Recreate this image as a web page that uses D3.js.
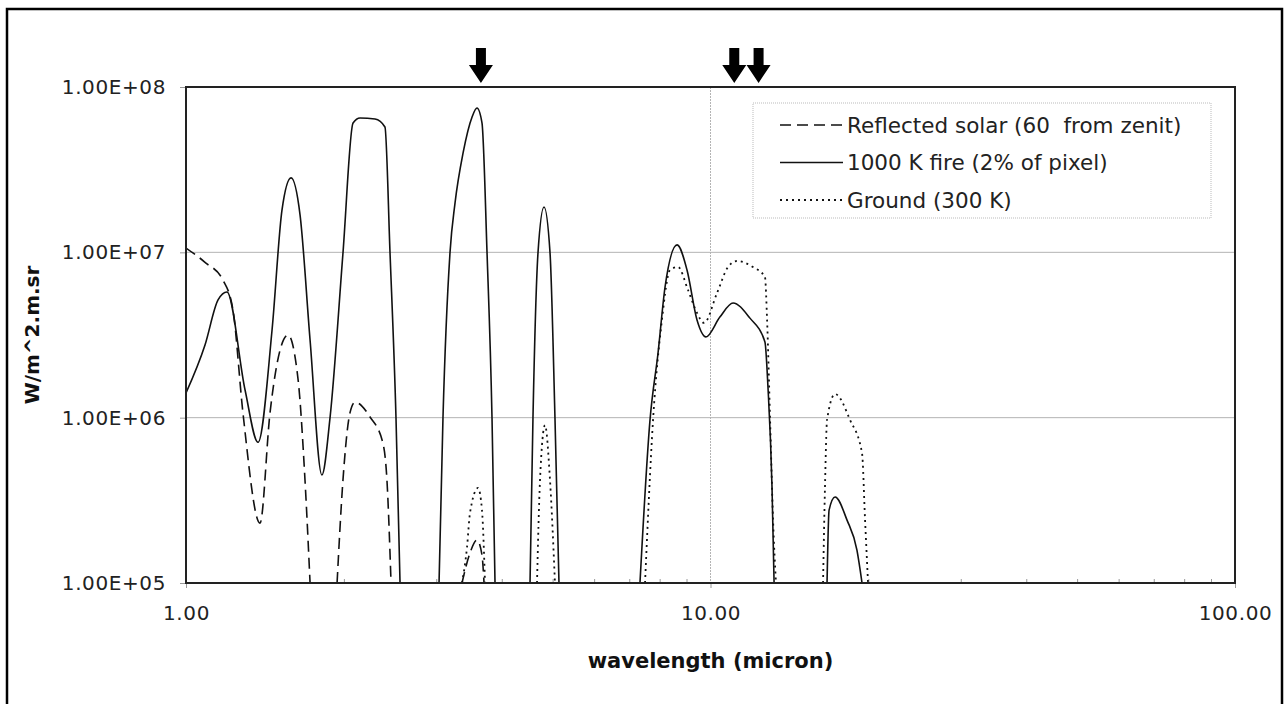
<!DOCTYPE html>
<html>
<head>
<meta charset="utf-8">
<script src="https://cdn.jsdelivr.net/npm/d3@7"></script>
<style>
  body { margin: 0; background: #fff; }
  text { font-family: "DejaVu Sans", Verdana, sans-serif; }
</style>
</head>
<body>
<div id="chart"></div>
<script>
// wavelength (micron) and radiance (W/m^2.m.sr); null = gap (below 1e5)
var fireLam = [1.00, 1.087, 1.151, 1.197, 1.296, 1.372, 1.459, 1.524, 1.586, 1.650, 1.724, 1.816, 1.882, 1.992, 2.082, 2.147, 2.293, 2.395, 2.449, 2.514, 2.559,
  2.8,
  3.037, 3.09, 3.187, 3.258, 3.375, 3.511, 3.588, 3.667, 3.749, 3.832, 3.883,
  4.2,
  4.528, 4.587, 4.690, 4.815, 4.943, 5.052, 5.142,
  6.0,
  7.337, 7.668, 7.943, 8.191, 8.636, 9.020, 9.425, 9.80, 10.42, 11.04, 11.89, 12.70, 12.87, 13.10, 13.22,
  15.0,
  16.68, 16.83, 17.28, 18.21, 19.02, 19.45]
var fireVal = [1.41e6, 2.75e6, 5.15e6, 5.75e6, 1.47e6, 7.1e5, 3.39e6, 1.8e7, 2.82e7, 1.68e7, 2.95e6, 4.5e5, 1.0e6, 9.9e6, 6.06e7, 6.5e7, 6.4e7, 5.73e7, 9.9e6, 1.0e6, 1.0e5,
  null,
  1.0e5, 1.0e6, 1.0e7, 1.99e7, 3.99e7, 6.59e7, 7.46e7, 6.06e7, 1.0e7, 1.0e6, 1.0e5,
  null,
  1.0e5, 1.0e6, 1.0e7, 1.88e7, 1.0e7, 1.0e6, 1.0e5,
  null,
  1.0e5, 9.7e5, 2.46e6, 6.17e6, 1.11e7, 7.82e6, 3.9e6, 3.08e6, 4.06e6, 4.94e6, 4.0e6, 2.87e6, 1.53e6, 3.81e5, 1.0e5,
  null,
  1.0e5, 2.76e5, 3.31e5, 2.4e5, 1.58e5, 1.0e5]

var solarLam = [1.00, 1.087, 1.176, 1.229, 1.284, 1.384, 1.446, 1.511, 1.565, 1.636, 1.686, 1.724,
  1.8,
  1.941, 1.992, 2.054, 2.10, 2.243, 2.374, 2.416, 2.460,
  3.0,
  3.359, 3.479, 3.588, 3.667, 3.700]
var solarVal = [1.06e7, 8.7e6, 6.8e6, 4.48e6, 1.07e6, 2.3e5, 1.07e6, 2.56e6, 3.16e6, 1.69e6, 4.2e5, 1.0e5,
  null,
  1.0e5, 4.2e5, 1.07e6, 1.24e6, 1.01e6, 7.0e5, 4.2e5, 1.0e5,
  null,
  1.0e5, 1.52e5, 1.82e5, 1.48e5, 1.0e5]

var groundLam = [3.359, 3.434, 3.479, 3.604, 3.667, 3.716,
  4.2,
  4.669, 4.731, 4.836, 4.943, 5.052,
  6.0,
  7.502, 7.771, 8.08, 8.373, 8.67, 9.06, 9.425, 9.72, 10.29, 10.80, 11.23, 12.05, 12.70, 12.82, 12.99, 13.16, 13.33,
  15.0,
  16.39, 16.53, 16.68, 17.28, 18.45, 19.45, 19.71, 19.97]
var groundVal = [1.0e5, 1.65e5, 2.65e5, 3.76e5, 2.76e5, 1.0e5,
  null,
  1.0e5, 4.2e5, 9.0e5, 4.2e5, 1.0e5,
  null,
  1.0e5, 9.7e5, 3.9e6, 7.82e6, 8.15e6, 5.92e6, 4.3e6, 3.74e6, 5.67e6, 8.15e6, 8.86e6, 8.15e6, 7.1e6, 3.9e6, 9.7e5, 2.4e5, 1.0e5,
  null,
  1.0e5, 3.81e5, 9.7e5, 1.39e6, 9.7e5, 6.1e5, 2.4e5, 1.0e5]

var seriesNames = ["Reflected solar (60  from zenit)", "1000 K fire (2% of pixel)", "Ground (300 K)"]
var arrowLam = [3.65, 11.1, 12.35]
var yTicks = [1e5, 1e6, 1e7, 1e8]
var xTicks = [1, 10, 100]

var W = 1286, H = 704
var margin = {top: 87, right: 51, bottom: 121, left: 186}
var width = W - margin.left - margin.right
var height = H - margin.top - margin.bottom

var svg = d3.select("#chart").append("svg")
    .attr("width", W)
    .attr("height", H)

// outer border
svg.append("rect").attr("x", 7).attr("y", 9).attr("width", 1275).attr("height", 710)
  .attr("fill", "none").attr("stroke", "#000").attr("stroke-width", 2.5)

var g = svg.append("g").attr("transform", "translate(" + margin.left + "," + margin.top + ")")

var xScale = d3.scaleLog().domain([1, 100]).range([0, width])
var yScale = d3.scaleLog().domain([1e5, 1e8]).range([height, 0])

function sci(v) {
  var e = Math.round(Math.log10(v))
  return (v / Math.pow(10, e)).toFixed(2) + "E+" + (e < 10 ? "0" + e : e)
}

// grid
g.selectAll(".hgrid").data([1e6, 1e7, 1e8]).enter().append("line")
  .attr("x1", 0).attr("x2", width)
  .attr("y1", yScale).attr("y2", yScale)
  .attr("stroke", "#b4b4b4").attr("stroke-width", 1)
g.append("line").attr("x1", xScale(10)).attr("x2", xScale(10))
  .attr("y1", 0).attr("y2", height)
  .attr("stroke", "#b4b4b4").attr("stroke-width", 1).attr("stroke-dasharray", "2,1")

// minor x ticks
var minor = []
for (var d = 1; d <= 10; d *= 10) for (var k = 2; k <= 9; k++) minor.push(k * d)
var minorAxis = g.append("g").attr("transform", "translate(0," + height + ")")
  .call(d3.axisBottom(xScale).tickValues(minor).tickSize(-4).tickFormat(""))
minorAxis.select(".domain").remove()
minorAxis.selectAll("line").attr("stroke", "#999")

var xAxis = g.append("g").attr("transform", "translate(0," + height + ")")
  .call(d3.axisBottom(xScale).tickValues(xTicks).tickSize(5).tickPadding(18).tickFormat(d3.format(".2f")))
xAxis.select(".domain").remove()
xAxis.selectAll("line").attr("stroke", "#999")
xAxis.selectAll("text").style("font-size", "20px").style("letter-spacing", "0.6px")
  .attr("fill", "#222").attr("font-family", "DejaVu Sans")

var yAxis = g.append("g")
  .call(d3.axisLeft(yScale).tickValues(yTicks).tickSize(6).tickPadding(14).tickFormat(sci))
yAxis.select(".domain").remove()
yAxis.selectAll("line").attr("stroke", "#999")
yAxis.selectAll("text").style("font-size", "20px").style("letter-spacing", "0.6px")
  .attr("fill", "#222").attr("font-family", "DejaVu Sans")

// clip + lines
g.append("defs").append("clipPath").attr("id", "clip")
  .append("rect").attr("width", width).attr("height", height)

var line = d3.line()
  .defined(function(d) { return d[1] != null })
  .x(function(d) { return xScale(d[0]) })
  .y(function(d) { return yScale(d[1]) })
  .curve(d3.curveMonotoneX)

var series = [
  {lam: solarLam, val: solarVal, dash: "11,6", w: 1.6},
  {lam: fireLam, val: fireVal, dash: null, w: 1.6},
  {lam: groundLam, val: groundVal, dash: "2,4", w: 1.8}
]
var plot = g.append("g").attr("clip-path", "url(#clip)")
series.forEach(function(s) {
  plot.append("path")
    .attr("d", line(d3.zip(s.lam, s.val)))
    .attr("fill", "none")
    .attr("stroke", "#111")
    .attr("stroke-width", s.w)
    .attr("stroke-dasharray", s.dash)
})

// plot frame
g.append("rect").attr("width", width).attr("height", height)
  .attr("fill", "none").attr("stroke", "#222").attr("stroke-width", 2)

// legend
var lg = svg.append("g").attr("transform", "translate(753,103)")
lg.append("rect").attr("width", 458).attr("height", 115)
  .attr("fill", "#fff").attr("stroke", "#bbb").attr("stroke-width", 1).attr("stroke-dasharray", "1,1")
seriesNames.forEach(function(name, i) {
  var yy = 22 + i * 37.5
  lg.append("line").attr("x1", 27).attr("x2", 90).attr("y1", yy).attr("y2", yy)
    .attr("stroke", "#111").attr("stroke-width", series[i].w).attr("stroke-dasharray", series[i].dash)
  lg.append("text").attr("x", 94).attr("y", yy).attr("dy", "0.35em")
    .style("font-size", "21.5px").style("white-space", "pre").attr("fill", "#222")
    .text(name)
})

// axis titles
svg.append("text").attr("x", margin.left + width / 2).attr("y", 668)
  .attr("text-anchor", "middle").style("font-size", "21px").style("font-weight", "bold")
  .attr("fill", "#111").text("wavelength (micron)")
svg.append("text").attr("transform", "translate(39," + (margin.top + height / 2) + ") rotate(-90)")
  .attr("text-anchor", "middle").style("font-size", "20px").style("font-weight", "bold")
  .attr("fill", "#111").text("W/m^2.m.sr")

// arrows marking channels
arrowLam.forEach(function(l) {
  var cx = margin.left + xScale(l)
  var p = [[cx - 5, 48], [cx + 5, 48], [cx + 5, 65], [cx + 12, 65], [cx, 83], [cx - 12, 65], [cx - 5, 65]]
  svg.append("polygon").attr("points", p.join(" ")).attr("fill", "#000")
})
</script>
</body>
</html>
